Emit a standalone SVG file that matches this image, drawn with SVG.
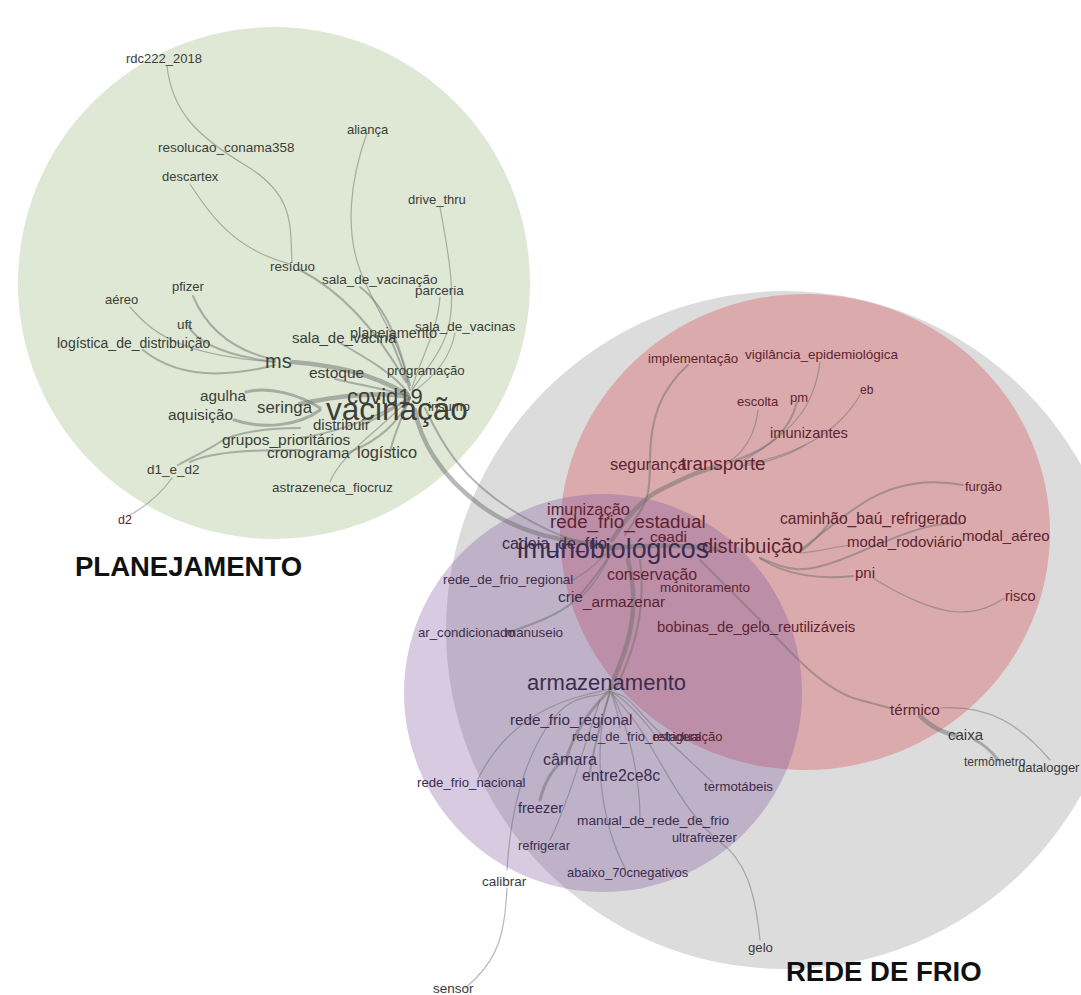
<svg xmlns="http://www.w3.org/2000/svg" width="1081" height="995" viewBox="0 0 1081 995">
<style>
.t{font-family:"Liberation Sans",Arial,sans-serif}
.g{fill:#3b3e39}
.r{fill:#5e2430}
.p{fill:#3b2d4f}
.k{fill:#3a3a3a}
.big{font-family:"Liberation Sans",Arial,sans-serif;font-weight:bold;fill:#111}
.e{fill:none;stroke:#707070;stroke-opacity:0.5;stroke-linecap:round}
.w1{stroke-width:1.2}
.w2{stroke-width:2}
.w3{stroke-width:3}
.w4{stroke-width:4.5}
</style>
<rect width="1081" height="995" fill="#ffffff"/>
<g id="clusters">
<circle id="c-planejamento" cx="274" cy="283" r="256" fill="#dee8d4"/>
<circle id="c-rede-de-frio" cx="785" cy="630" r="339" fill="#dcdcdc"/>
<ellipse id="c-transporte" cx="805" cy="532" rx="245" ry="238" fill="#d64d53" fill-opacity="0.35"/>
<circle id="c-armazenamento" cx="603" cy="693" r="199" fill="#7a4e9a" fill-opacity="0.3"/>
</g>
<g id="connectors">
<path class="e w1" d="M167,66 C172,110 195,135 245,165 S290,225 292,262"/>
<path class="e w1" d="M190,184 C210,215 235,250 290,264"/>
<path class="e w2" d="M300,270 C335,288 372,322 406,382"/>
<path class="e w1" d="M367,133 C350,180 345,230 360,270 S400,340 408,382"/>
<path class="e w1" d="M440,207 C448,250 455,290 450,320 S425,370 412,390"/>
<path class="e w2" d="M360,287 C390,310 400,350 410,385"/>
<path class="e w1" d="M440,297 C438,330 420,360 412,388"/>
<path class="e w1" d="M455,333 C450,360 430,380 413,392"/>
<path class="e w2" d="M390,338 C400,360 405,375 410,390"/>
<path class="e w4" d="M292,362 C330,365 370,372 408,395"/>
<path class="e w2" d="M340,343 C370,360 395,375 408,393"/>
<path class="e w2" d="M335,379 C360,385 390,390 408,396"/>
<path class="e w4" d="M300,404 C340,395 380,392 408,397"/>
<path class="e w3" d="M320,408 C300,395 270,386 246,392"/>
<path class="e w3" d="M320,410 C300,425 265,430 234,420"/>
<path class="e w2" d="M360,425 C380,418 400,405 410,397"/>
<path class="e w2" d="M300,438 C340,432 380,415 410,398"/>
<path class="e w2" d="M350,452 C380,440 400,420 410,398"/>
<path class="e w2" d="M390,452 C395,430 405,410 410,398"/>
<path class="e w1" d="M330,482 C340,455 380,430 410,398"/>
<path class="e w2" d="M300,428 C270,428 235,432 220,442 S190,458 178,465"/>
<path class="e w2" d="M300,450 C265,450 215,450 190,462"/>
<path class="e w1" d="M172,478 C160,495 145,507 128,516"/>
<path class="e w2" d="M193,296 C205,325 230,350 275,360"/>
<path class="e w2" d="M187,324 C195,340 220,355 275,362"/>
<path class="e w1" d="M130,307 C150,330 175,355 275,362"/>
<path class="e w2" d="M143,350 C170,372 210,382 275,365"/>
<path class="e w4" d="M415,410 C420,440 440,475 480,505 S560,540 612,548"/>
<path class="e w2" d="M425,408 C440,440 460,480 520,515 S590,540 612,546"/>
<path class="e w4" d="M612,540 C625,520 640,500 660,490 S700,470 720,466"/>
<path class="e w2" d="M688,365 C660,390 650,420 650,460 S648,500 625,535"/>
<path class="e w1" d="M758,410 C755,435 745,452 725,465"/>
<path class="e w2" d="M797,402 C790,430 770,450 730,462"/>
<path class="e w1" d="M820,362 C815,400 800,430 740,462"/>
<path class="e w1" d="M860,395 C840,430 800,455 745,464"/>
<path class="e w1" d="M805,445 C790,455 760,465 740,466"/>
<path class="e w4" d="M612,548 C650,545 690,545 720,550"/>
<path class="e w2" d="M963,485 C925,478 890,485 860,505 S815,540 800,550"/>
<path class="e w2" d="M830,522 C820,535 810,545 800,552"/>
<path class="e w2" d="M960,524 C925,520 880,545 840,560 S790,570 760,558"/>
<path class="e w1" d="M850,545 C830,548 815,552 800,553"/>
<path class="e w2" d="M853,576 C820,580 785,575 760,558"/>
<path class="e w1" d="M873,578 C900,595 935,612 960,612 S995,603 1005,598"/>
<path class="e w2" d="M700,560 C720,580 740,600 760,620 S820,690 860,700 L890,708"/>
<path class="e w4" d="M920,716 C935,730 945,733 955,735"/>
<path class="e w3" d="M975,740 C985,745 992,752 998,760"/>
<path class="e w1" d="M940,708 C990,705 1020,725 1050,760"/>
<path class="e w4" d="M628,560 C636,590 635,620 625,650 S612,680 610,690"/>
<path class="e w2" d="M640,560 C645,600 640,640 615,690"/>
<path class="e w1" d="M573,580 C590,570 600,560 610,550"/>
<path class="e w2" d="M507,633 C530,625 560,615 575,600 S600,570 610,555"/>
<path class="e w1" d="M580,598 C595,585 605,565 612,552"/>
<path class="e w1" d="M478,779 C495,745 525,710 585,695 S605,690 610,690"/>
<path class="e w3" d="M567,757 C575,730 590,710 608,692"/>
<path class="e w3" d="M540,800 C545,780 555,765 565,760"/>
<path class="e w1" d="M550,840 C565,810 580,760 600,700"/>
<path class="e w2" d="M590,772 C595,740 603,715 610,692"/>
<path class="e w1" d="M507,870 C510,820 520,770 545,730 S590,700 608,692"/>
<path class="e w1" d="M507,888 C505,930 500,960 465,988"/>
<path class="e w1" d="M625,868 C610,840 600,800 600,760 S605,710 610,692"/>
<path class="e w1" d="M640,818 C640,780 630,730 612,693"/>
<path class="e w1" d="M712,835 C690,815 670,780 650,745 S620,705 612,693"/>
<path class="e w1" d="M720,842 C745,860 755,890 760,940"/>
<path class="e w1" d="M712,782 C690,760 660,735 640,712 S620,697 613,692"/>
<path class="e w1" d="M655,735 C640,715 625,700 612,692"/>
<path class="e w1" d="M620,728 C618,715 614,700 611,693"/>
</g>
<g id="n-rdc222_2018"><text class="t g" x="126" y="63" font-size="13">rdc222_2018</text></g>
<g id="n-resolucao_conama358"><text class="t g" x="158" y="152" font-size="13.5">resolucao_conama358</text></g>
<g id="n-descartex"><text class="t g" x="162" y="181" font-size="13">descartex</text></g>
<g id="n-alianca"><text class="t g" x="347" y="134" font-size="13">aliança</text></g>
<g id="n-drive_thru"><text class="t g" x="408" y="204" font-size="13">drive_thru</text></g>
<g id="n-residuo"><text class="t g" x="270" y="271" font-size="13.5">resíduo</text></g>
<g id="n-sala_de_vacinacao"><text class="t g" x="322" y="284" font-size="13.5">sala_de_vacinação</text></g>
<g id="n-parceria"><text class="t g" x="415" y="295" font-size="13.5">parceria</text></g>
<g id="n-pfizer"><text class="t g" x="172" y="291" font-size="13">pfizer</text></g>
<g id="n-aereo"><text class="t g" x="105" y="304" font-size="13">aéreo</text></g>
<g id="n-uft"><text class="t g" x="177" y="329" font-size="13.5">uft</text></g>
<g id="n-logistica_de_distribuicao"><text class="t g" x="57" y="348" font-size="14">logística_de_distribuição</text></g>
<g id="n-sala_de_vacinas"><text class="t g" x="415" y="331" font-size="13.5">sala_de_vacinas</text></g>
<g id="n-planejamento"><text class="t g" x="350" y="338" font-size="14.5">planejamento</text></g>
<g id="n-sala_de_vacina"><text class="t g" x="292" y="343" font-size="15">sala_de_vacina</text></g>
<g id="n-ms"><text class="t g" x="265" y="368" font-size="20">ms</text></g>
<g id="n-estoque"><text class="t g" x="309" y="378" font-size="15.5">estoque</text></g>
<g id="n-programacao"><text class="t g" x="387" y="375" font-size="13.2">programação</text></g>
<g id="n-covid19"><text class="t g" x="347" y="404" font-size="22">covid19</text></g>
<g id="n-insumo"><text class="t g" x="428" y="411" font-size="13">insumo</text></g>
<g id="n-vacinacao"><text class="t g" x="326" y="420" font-size="31.5">vacinação</text></g>
<g id="n-agulha"><text class="t g" x="200" y="401" font-size="15.3">agulha</text></g>
<g id="n-seringa"><text class="t g" x="257" y="413" font-size="16.8">seringa</text></g>
<g id="n-aquisicao"><text class="t g" x="168" y="420" font-size="15.4">aquisição</text></g>
<g id="n-distribuir"><text class="t g" x="313" y="430" font-size="15">distribuir</text></g>
<g id="n-grupos_prioritarios"><text class="t g" x="222" y="445" font-size="15.5">grupos_prioritários</text></g>
<g id="n-cronograma"><text class="t g" x="267" y="458" font-size="15.5">cronograma</text></g>
<g id="n-logistico"><text class="t g" x="357" y="458" font-size="16.4">logístico</text></g>
<g id="n-d1_e_d2"><text class="t g" x="147" y="474" font-size="13.5">d1_e_d2</text></g>
<g id="n-astrazeneca_fiocruz"><text class="t g" x="272" y="492" font-size="13.5">astrazeneca_fiocruz</text></g>
<g id="n-d2"><text class="t r" x="118" y="524" font-size="12.5">d2</text></g>
<g id="n-implementacao"><text class="t r" x="648" y="363" font-size="13.3">implementação</text></g>
<g id="n-vigilancia_epidemiologica"><text class="t r" x="745" y="359" font-size="13.5">vigilância_epidemiológica</text></g>
<g id="n-escolta"><text class="t r" x="737" y="406" font-size="13">escolta</text></g>
<g id="n-pm"><text class="t r" x="790" y="402" font-size="13">pm</text></g>
<g id="n-eb"><text class="t r" x="860" y="394" font-size="12">eb</text></g>
<g id="n-imunizantes"><text class="t r" x="770" y="438" font-size="14.6">imunizantes</text></g>
<g id="n-seguranca"><text class="t r" x="610" y="470" font-size="16.4">segurança</text></g>
<g id="n-transporte"><text class="t r" x="681" y="470" font-size="18.8">transporte</text></g>
<g id="n-furgao"><text class="t r" x="965" y="491" font-size="13">furgão</text></g>
<g id="n-caminhao_bau_refrigerado"><text class="t r" x="780" y="524" font-size="15.6">caminhão_baú_refrigerado</text></g>
<g id="n-modal_rodoviario"><text class="t r" x="847" y="547" font-size="15">modal_rodoviário</text></g>
<g id="n-modal_aereo"><text class="t r" x="962" y="541" font-size="15">modal_aéreo</text></g>
<g id="n-distribuicao"><text class="t r" x="702" y="553" font-size="20">distribuição</text></g>
<g id="n-pni"><text class="t r" x="855" y="578" font-size="15">pni</text></g>
<g id="n-risco"><text class="t r" x="1005" y="601" font-size="14.5">risco</text></g>
<g id="n-bobinas_de_gelo_reutilizaveis"><text class="t r" x="657" y="632" font-size="14.8">bobinas_de_gelo_reutilizáveis</text></g>
<g id="n-monitoramento"><text class="t r" x="660" y="592" font-size="13.5">monitoramento</text></g>
<g id="n-conservacao"><text class="t r" x="607" y="580" font-size="15.9">conservação</text></g>
<g id="n-ceadi"><text class="t r" x="650" y="542" font-size="15.5">ceadi</text></g>
<g id="n-imunizacao"><text class="t r" x="547" y="515" font-size="16.4">imunização</text></g>
<g id="n-rede_frio_estadual"><text class="t r" x="550" y="528" font-size="18.8">rede_frio_estadual</text></g>
<g id="n-cadeia_de_frio"><text class="t p" x="502" y="549" font-size="16">cadeia_de_frio</text></g>
<g id="n-imunobiologicos"><text class="t p" x="517" y="558" font-size="26.8">imunobiológicos</text></g>
<g id="n-rede_de_frio_regional"><text class="t p" x="443" y="584" font-size="13.4">rede_de_frio_regional</text></g>
<g id="n-crie"><text class="t p" x="558" y="602" font-size="15.5">crie</text></g>
<g id="n-armazenar"><text class="t r" x="583" y="607" font-size="15.4">_armazenar</text></g>
<g id="n-ar_condicionado"><text class="t p" x="418" y="637" font-size="13.2">ar_condicionado</text></g>
<g id="n-manuseio"><text class="t p" x="505" y="637" font-size="13.4">manuseio</text></g>
<g id="n-armazenamento"><text class="t p" x="527" y="690" font-size="22">armazenamento</text></g>
<g id="n-rede_frio_regional"><text class="t p" x="510" y="725" font-size="15.2">rede_frio_regional</text></g>
<g id="n-rede_de_frio_estadual"><text class="t p" x="572" y="741" font-size="13">rede_de_frio_estadual</text></g>
<g id="n-refrigeracao"><text class="t r" x="653" y="741" font-size="13">refrigeração</text></g>
<g id="n-camara"><text class="t p" x="543" y="765" font-size="16.2">câmara</text></g>
<g id="n-entre2ce8c"><text class="t p" x="582" y="781" font-size="15.8">entre2ce8c</text></g>
<g id="n-rede_frio_nacional"><text class="t p" x="417" y="787" font-size="13.2">rede_frio_nacional</text></g>
<g id="n-termotabeis"><text class="t p" x="704" y="791" font-size="13.2">termotábeis</text></g>
<g id="n-freezer"><text class="t p" x="518" y="813" font-size="14.5">freezer</text></g>
<g id="n-manual_de_rede_de_frio"><text class="t p" x="577" y="825" font-size="13.7">manual_de_rede_de_frio</text></g>
<g id="n-ultrafreezer"><text class="t p" x="672" y="842" font-size="12.8">ultrafreezer</text></g>
<g id="n-refrigerar"><text class="t p" x="518" y="850" font-size="12.8">refrigerar</text></g>
<g id="n-abaixo_70cnegativos"><text class="t p" x="567" y="877" font-size="12.9">abaixo_70cnegativos</text></g>
<g id="n-calibrar"><text class="t k" x="482" y="886" font-size="13.5">calibrar</text></g>
<g id="n-gelo"><text class="t k" x="748" y="952" font-size="13.2">gelo</text></g>
<g id="n-sensor"><text class="t k" x="433" y="993" font-size="13.5">sensor</text></g>
<g id="n-termico"><text class="t r" x="890" y="715" font-size="15.2">térmico</text></g>
<g id="n-caixa"><text class="t k" x="948" y="740" font-size="15">caixa</text></g>
<g id="n-termometro"><text class="t k" x="964" y="766" font-size="12">termômetro</text></g>
<g id="n-datalogger"><text class="t k" x="1018" y="772" font-size="13">datalogger</text></g>
<g id="l-planejamento"><text class="big" x="75" y="576" font-size="27.5">PLANEJAMENTO</text></g>
<g id="l-rede-de-frio"><text class="big" x="786" y="981" font-size="27.5">REDE DE FRIO</text></g>
</svg>
